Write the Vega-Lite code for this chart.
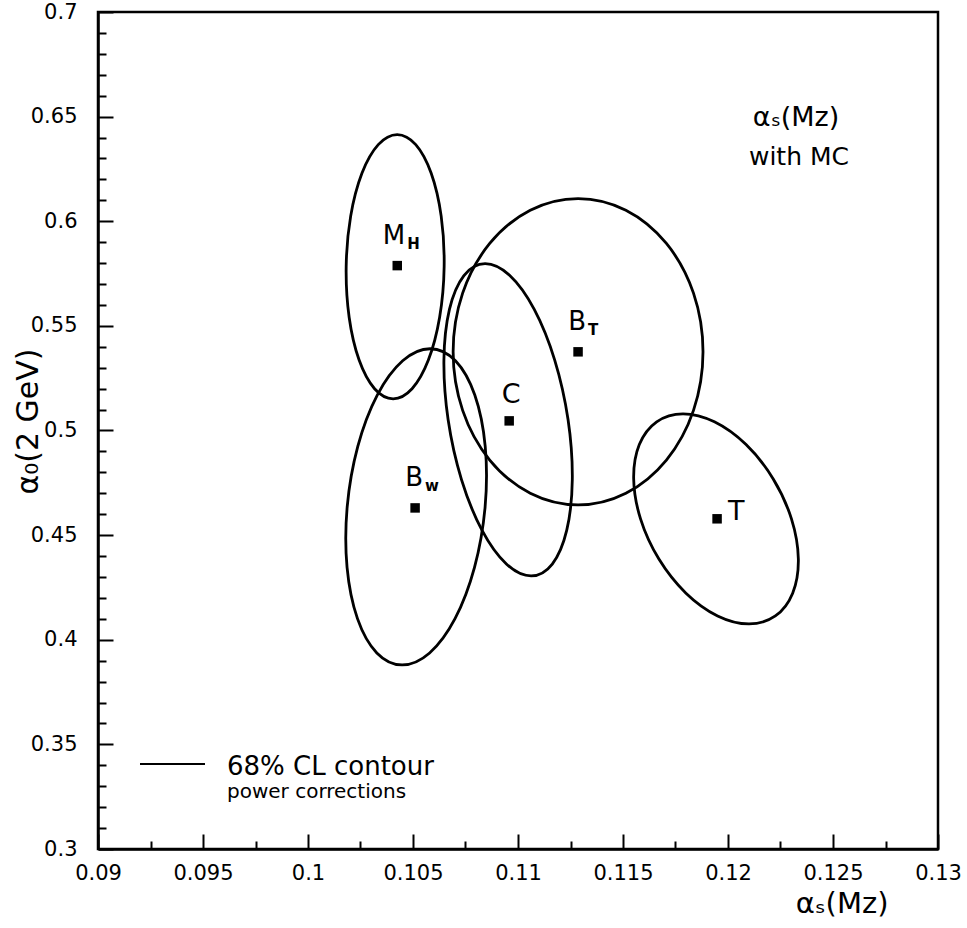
{
  "$schema": "https://vega.github.io/schema/vega-lite/v6.json",
  "width": 840,
  "height": 837,
  "autosize": {"type": "none"},
  "padding": {"left": 98, "top": 12, "right": 29, "bottom": 79},
  "background": "white",
  "config": {"font": "DejaVu Sans", "view": {"stroke": "black", "strokeWidth": 2.5}},
  "resolve": {"axis": {"x": "independent", "y": "independent"}},
  "datasets": {
    "ellipses": [
      {"e": "MH", "i": 0, "x": 0.106483, "y": 0.578288},
      {"e": "MH", "i": 1, "x": 0.106342, "y": 0.602448},
      {"e": "MH", "i": 2, "x": 0.105867, "y": 0.622927},
      {"e": "MH", "i": 3, "x": 0.105131, "y": 0.636609},
      {"e": "MH", "i": 4, "x": 0.104246, "y": 0.641415},
      {"e": "MH", "i": 5, "x": 0.103346, "y": 0.636609},
      {"e": "MH", "i": 6, "x": 0.102568, "y": 0.622927},
      {"e": "MH", "i": 7, "x": 0.102032, "y": 0.602448},
      {"e": "MH", "i": 8, "x": 0.101818, "y": 0.578288},
      {"e": "MH", "i": 9, "x": 0.101959, "y": 0.554128},
      {"e": "MH", "i": 10, "x": 0.102434, "y": 0.533649},
      {"e": "MH", "i": 11, "x": 0.103170, "y": 0.519966},
      {"e": "MH", "i": 12, "x": 0.104055, "y": 0.515160},
      {"e": "MH", "i": 13, "x": 0.104955, "y": 0.519966},
      {"e": "MH", "i": 14, "x": 0.105732, "y": 0.533649},
      {"e": "MH", "i": 15, "x": 0.106268, "y": 0.554128},
      {"e": "Bw", "i": 0, "x": 0.108434, "y": 0.463510},
      {"e": "Bw", "i": 1, "x": 0.108439, "y": 0.492429},
      {"e": "Bw", "i": 2, "x": 0.107943, "y": 0.516941},
      {"e": "Bw", "i": 3, "x": 0.107022, "y": 0.533322},
      {"e": "Bw", "i": 4, "x": 0.105816, "y": 0.539072},
      {"e": "Bw", "i": 5, "x": 0.104508, "y": 0.533322},
      {"e": "Bw", "i": 6, "x": 0.103299, "y": 0.516941},
      {"e": "Bw", "i": 7, "x": 0.102371, "y": 0.492429},
      {"e": "Bw", "i": 8, "x": 0.101866, "y": 0.463510},
      {"e": "Bw", "i": 9, "x": 0.101860, "y": 0.434590},
      {"e": "Bw", "i": 10, "x": 0.102356, "y": 0.410081},
      {"e": "Bw", "i": 11, "x": 0.103277, "y": 0.393696},
      {"e": "Bw", "i": 12, "x": 0.104483, "y": 0.387948},
      {"e": "Bw", "i": 13, "x": 0.105791, "y": 0.393696},
      {"e": "Bw", "i": 14, "x": 0.107001, "y": 0.410081},
      {"e": "Bw", "i": 15, "x": 0.107929, "y": 0.434590},
      {"e": "C", "i": 0, "x": 0.112385, "y": 0.505117},
      {"e": "C", "i": 1, "x": 0.111748, "y": 0.533668},
      {"e": "C", "i": 2, "x": 0.110774, "y": 0.557873},
      {"e": "C", "i": 3, "x": 0.109610, "y": 0.574045},
      {"e": "C", "i": 4, "x": 0.108434, "y": 0.579723},
      {"e": "C", "i": 5, "x": 0.107425, "y": 0.574045},
      {"e": "C", "i": 6, "x": 0.106735, "y": 0.557873},
      {"e": "C", "i": 7, "x": 0.106472, "y": 0.533668},
      {"e": "C", "i": 8, "x": 0.106673, "y": 0.505117},
      {"e": "C", "i": 9, "x": 0.107309, "y": 0.476566},
      {"e": "C", "i": 10, "x": 0.108283, "y": 0.452363},
      {"e": "C", "i": 11, "x": 0.109447, "y": 0.436188},
      {"e": "C", "i": 12, "x": 0.110623, "y": 0.430512},
      {"e": "C", "i": 13, "x": 0.111633, "y": 0.436188},
      {"e": "C", "i": 14, "x": 0.112322, "y": 0.452363},
      {"e": "C", "i": 15, "x": 0.112586, "y": 0.476566},
      {"e": "BT", "i": 0, "x": 0.118810, "y": 0.537638},
      {"e": "BT", "i": 1, "x": 0.118357, "y": 0.565639},
      {"e": "BT", "i": 2, "x": 0.117067, "y": 0.589378},
      {"e": "BT", "i": 3, "x": 0.115137, "y": 0.605243},
      {"e": "BT", "i": 4, "x": 0.112861, "y": 0.610808},
      {"e": "BT", "i": 5, "x": 0.110583, "y": 0.605243},
      {"e": "BT", "i": 6, "x": 0.108653, "y": 0.589378},
      {"e": "BT", "i": 7, "x": 0.107364, "y": 0.565639},
      {"e": "BT", "i": 8, "x": 0.106911, "y": 0.537638},
      {"e": "BT", "i": 9, "x": 0.107364, "y": 0.509637},
      {"e": "BT", "i": 10, "x": 0.108653, "y": 0.485897},
      {"e": "BT", "i": 11, "x": 0.110583, "y": 0.470034},
      {"e": "BT", "i": 12, "x": 0.112861, "y": 0.464467},
      {"e": "BT", "i": 13, "x": 0.115137, "y": 0.470034},
      {"e": "BT", "i": 14, "x": 0.117067, "y": 0.485897},
      {"e": "BT", "i": 15, "x": 0.118357, "y": 0.509637},
      {"e": "T", "i": 0, "x": 0.123022, "y": 0.457771},
      {"e": "T", "i": 1, "x": 0.122147, "y": 0.476987},
      {"e": "T", "i": 2, "x": 0.120860, "y": 0.493281},
      {"e": "T", "i": 3, "x": 0.119353, "y": 0.504166},
      {"e": "T", "i": 4, "x": 0.117858, "y": 0.507987},
      {"e": "T", "i": 5, "x": 0.116603, "y": 0.504166},
      {"e": "T", "i": 6, "x": 0.115777, "y": 0.493281},
      {"e": "T", "i": 7, "x": 0.115508, "y": 0.476987},
      {"e": "T", "i": 8, "x": 0.115835, "y": 0.457771},
      {"e": "T", "i": 9, "x": 0.116710, "y": 0.438556},
      {"e": "T", "i": 10, "x": 0.117998, "y": 0.422262},
      {"e": "T", "i": 11, "x": 0.119505, "y": 0.411378},
      {"e": "T", "i": 12, "x": 0.120999, "y": 0.407556},
      {"e": "T", "i": 13, "x": 0.122255, "y": 0.411378},
      {"e": "T", "i": 14, "x": 0.123080, "y": 0.422262},
      {"e": "T", "i": 15, "x": 0.123350, "y": 0.438556}
    ],
    "points": [
      {"name": "M_H", "main": "M", "sub": "H", "x": 0.10425, "y": 0.5788},
      {"name": "B_w", "main": "B", "sub": "w", "x": 0.10510, "y": 0.4630},
      {"name": "C", "main": "C", "sub": "", "x": 0.10958, "y": 0.5046},
      {"name": "B_T", "main": "B", "sub": "T", "x": 0.11286, "y": 0.5376},
      {"name": "T", "main": "T", "sub": "", "x": 0.11948, "y": 0.4578}
    ]
  },
  "layer": [
    {
      "data": {"name": "ellipses"},
      "mark": {"type": "line", "interpolate": "cardinal-closed", "color": "black", "strokeWidth": 2.8},
      "encoding": {
        "x": {
          "field": "x", "type": "quantitative",
          "scale": {"domain": [0.09, 0.13], "nice": false, "zero": false},
          "axis": {
            "orient": "bottom",
            "title": "αₛ(Mᴢ)",
            "values": [0.09, 0.095, 0.1, 0.105, 0.11, 0.115, 0.12, 0.125, 0.13],
            "format": "~g",
            "labelFlush": false,
            "labelOverlap": false,
            "labelFontSize": 21,
            "labelColor": "black",
            "labelPadding": 28,
            "labelBaseline": "top",
            "tickColor": "black",
            "tickWidth": 2,
            "tickSize": -15,
            "domainColor": "black",
            "domainWidth": 2.5,
            "grid": false,
            "titleFontSize": 29,
            "titleFontWeight": "normal",
            "titleColor": "black",
            "titleX": 790,
            "titleY": 63,
            "titleAlign": "right",
            "titleBaseline": "alphabetic"
          }
        },
        "y": {
          "field": "y", "type": "quantitative",
          "scale": {"domain": [0.3, 0.7], "nice": false, "zero": false},
          "axis": {
            "orient": "left",
            "title": "α₀(2 GeV)",
            "values": [0.3, 0.35, 0.4, 0.45, 0.5, 0.55, 0.6, 0.65, 0.7],
            "format": "~g",
            "labelFlush": false,
            "labelOverlap": false,
            "labelFontSize": 21,
            "labelColor": "black",
            "labelPadding": 36,
            "tickColor": "black",
            "tickWidth": 2,
            "tickSize": -15,
            "domainColor": "black",
            "domainWidth": 2.5,
            "grid": false,
            "titleFontSize": 30,
            "titleFontWeight": "normal",
            "titleColor": "black",
            "titleAngle": -90,
            "titleX": -61,
            "titleY": 409,
            "titleAlign": "center",
            "titleBaseline": "alphabetic"
          }
        },
        "detail": {"field": "e"},
        "order": {"field": "i"}
      }
    },
    {
      "data": {"name": "points"},
      "mark": {"type": "square", "size": 90, "color": "black", "opacity": 1},
      "encoding": {
        "x": {
          "field": "x", "type": "quantitative",
          "axis": {
            "orient": "bottom",
            "title": null,
            "values": [0.0925, 0.0975, 0.1025, 0.1075, 0.1125, 0.1175, 0.1225, 0.1275],
            "labels": false,
            "domain": false,
            "grid": false,
            "tickColor": "black",
            "tickWidth": 2,
            "tickSize": -8
          }
        },
        "y": {
          "field": "y", "type": "quantitative",
          "axis": {
            "orient": "left",
            "title": null,
            "values": [0.31, 0.32, 0.33, 0.34, 0.36, 0.37, 0.38, 0.39, 0.41, 0.42, 0.43, 0.44, 0.46, 0.47, 0.48, 0.49, 0.51, 0.52, 0.53, 0.54, 0.56, 0.57, 0.58, 0.59, 0.61, 0.62, 0.63, 0.64, 0.66, 0.67, 0.68, 0.69],
            "labels": false,
            "domain": false,
            "grid": false,
            "tickColor": "black",
            "tickWidth": 2,
            "tickSize": -8
          }
        }
      }
    },
    {
      "data": {"name": "points"},
      "transform": [{"filter": "datum.sub != ''"}],
      "mark": {"type": "text", "align": "right", "baseline": "alphabetic", "dx": 8, "dy": -22, "fontSize": 26, "color": "black"},
      "encoding": {
        "x": {"field": "x", "type": "quantitative", "axis": null},
        "y": {"field": "y", "type": "quantitative", "axis": null},
        "text": {"field": "main"}
      }
    },
    {
      "data": {"name": "points"},
      "transform": [{"filter": "datum.sub != ''"}],
      "mark": {"type": "text", "align": "left", "baseline": "alphabetic", "dx": 10, "dy": -17, "fontSize": 15, "fontWeight": "bold", "color": "black"},
      "encoding": {
        "x": {"field": "x", "type": "quantitative", "axis": null},
        "y": {"field": "y", "type": "quantitative", "axis": null},
        "text": {"field": "sub"}
      }
    },
    {
      "data": {"name": "points"},
      "transform": [{"filter": "datum.name == 'C'"}],
      "mark": {"type": "text", "align": "center", "baseline": "alphabetic", "dx": 2, "dy": -18, "fontSize": 27, "color": "black"},
      "encoding": {
        "x": {"field": "x", "type": "quantitative", "axis": null},
        "y": {"field": "y", "type": "quantitative", "axis": null},
        "text": {"field": "main"}
      }
    },
    {
      "data": {"name": "points"},
      "transform": [{"filter": "datum.name == 'T'"}],
      "mark": {"type": "text", "align": "left", "baseline": "alphabetic", "dx": 11, "dy": 1, "fontSize": 27, "color": "black"},
      "encoding": {
        "x": {"field": "x", "type": "quantitative", "axis": null},
        "y": {"field": "y", "type": "quantitative", "axis": null},
        "text": {"field": "main"}
      }
    },
    {
      "data": {"values": [{}]},
      "mark": {"type": "text", "align": "center", "baseline": "alphabetic", "fontSize": 27, "color": "black", "text": "αₛ(Mᴢ)"},
      "encoding": {"x": {"datum": 0.12324, "axis": null}, "y": {"datum": 0.64552, "axis": null}}
    },
    {
      "data": {"values": [{}]},
      "mark": {"type": "text", "align": "center", "baseline": "alphabetic", "fontSize": 25, "color": "black", "text": "with MC"},
      "encoding": {"x": {"datum": 0.12338, "axis": null}, "y": {"datum": 0.62688, "axis": null}}
    },
    {
      "data": {"values": [{}]},
      "mark": {"type": "rule", "color": "black", "strokeWidth": 2},
      "encoding": {"x": {"datum": 0.092, "axis": null}, "x2": {"datum": 0.095095}, "y": {"datum": 0.340621, "axis": null}}
    },
    {
      "data": {"values": [{}]},
      "mark": {"type": "text", "align": "left", "baseline": "alphabetic", "fontSize": 26, "color": "black", "text": "68% CL contour"},
      "encoding": {"x": {"datum": 0.096143, "axis": null}, "y": {"datum": 0.335364, "axis": null}}
    },
    {
      "data": {"values": [{}]},
      "mark": {"type": "text", "align": "left", "baseline": "alphabetic", "fontSize": 20, "color": "black", "text": "power corrections"},
      "encoding": {"x": {"datum": 0.096143, "axis": null}, "y": {"datum": 0.324373, "axis": null}}
    }
  ]
}
